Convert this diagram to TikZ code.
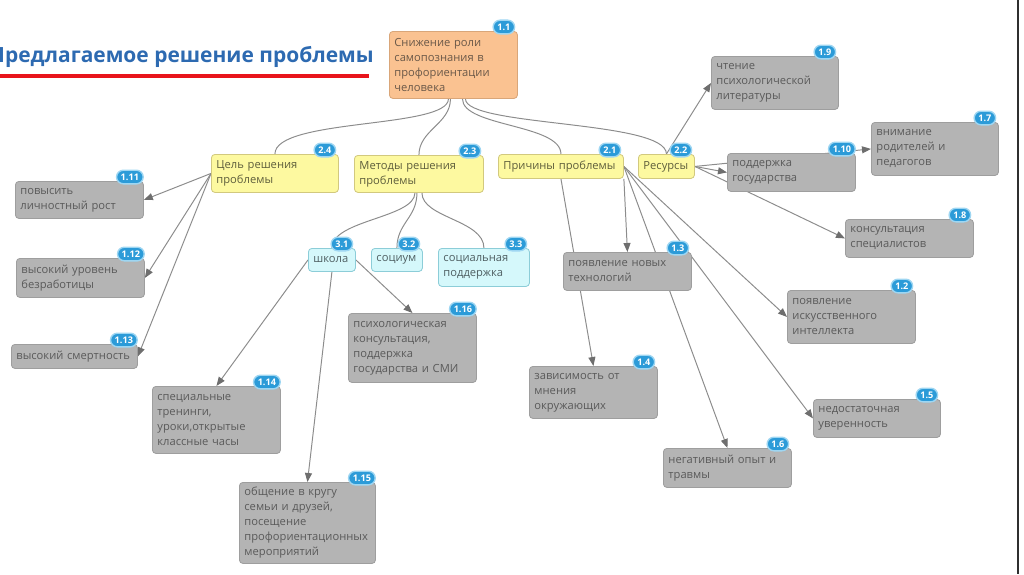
\documentclass[tikz,border=0pt]{standalone}
\usepackage{fontspec}
\setmainfont{Open Sans}
\usetikzlibrary{arrows.meta, backgrounds}
\definecolor{TitleB} {HTML}{2D6AB1}
\definecolor{LineR}  {HTML}{E8141B}
\definecolor{Orng}   {HTML}{D9A679}
\definecolor{OrngF}  {HTML}{FAC291}
\definecolor{OrngT}  {HTML}{6A5848}
\definecolor{Yell}   {HTML}{D2C97E}
\definecolor{YellF}  {HTML}{FDF9A0}
\definecolor{YellT}  {HTML}{5E5E3C}
\definecolor{CyanB}  {HTML}{8CCDD8}
\definecolor{CyanF}  {HTML}{D5F8FB}
\definecolor{CyanT}  {HTML}{4F5F62}
\definecolor{Gry}    {HTML}{9E9E9E}
\definecolor{GryF}   {HTML}{B4B4B4}
\definecolor{GryT}   {HTML}{5A5A5A}
\definecolor{Wire}   {HTML}{8C8C8C}
\definecolor{Tip}    {HTML}{6E6E6E}
\definecolor{Badge}  {HTML}{2C9BD8}
\definecolor{BadgeR} {HTML}{9ED6F2}
\definecolor{Edge}   {HTML}{2F2F2F}
\tikzset{
  box/.style args={#1/#2/#3}{
    rectangle, rounded corners=2.5pt,
    draw=#1, fill=#2, text=#3,
    font=\fontsize{7.95}{10.7}\selectfont, align=left,
    anchor=north west, inner xsep=0.125cm, inner ysep=0pt,
    line width=0.6pt,
  },
  obox/.style={box=Orng/OrngF/OrngT},
  ybox/.style={box=Yell/YellF/YellT},
  cbox/.style={box=CyanB/CyanF/CyanT},
  gbox/.style={box=Gry/GryF/GryT},
  wh/.style args={#1/#2}{text width=#1, minimum height=#2},
  badge/.style={
    rectangle, rounded corners=0.17cm,
    draw=BadgeR, fill=Badge, text=white,
    font=\fontsize{6.5}{7}\selectfont\bfseries,
    inner xsep=3pt, inner ysep=0pt, minimum height=0.34cm,
    line width=1pt,
  },
  link/.style={draw=Wire, line width=0.7pt},
  arr/.style={
    -{Triangle[length=0.225cm,width=0.175cm,color=Tip]},
    draw=Wire, line width=0.7pt,
  },
}
\begin{document}
\begin{tikzpicture}[x=0.025cm,y=-0.025cm]

    \useasboundingbox (0,0) rectangle (1024,574);

    \begin{scope}
      \clip (0,0) rectangle (400,100);
      \node[font=\fontsize{14.9}{18}\selectfont\bfseries, text=TitleB,
            anchor=base east, inner sep=0pt] (title) at (374,62)
            {Предлагаемое решение проблемы};
    \end{scope}
    \draw[LineR, line width=2.5pt] (0,76) -- (369,76);
    \draw[Edge, line width=1.3pt] (1018,0) -- (1018,574);

    \node[obox, wh=2.95cm/1.675cm]  (n11) at (389,31)
          {Снижение роли\\самопознания в\\профориентации\\человека};

    \node[ybox, wh=2.925cm/0.95cm]  (n24) at (211,154) {Цель решения\\проблемы};
    \node[ybox, wh=2.975cm/0.925cm] (n23) at (354,155) {Методы решения\\проблемы};
    \node[ybox, wh=2.875cm/0.6cm]   (n21) at (498,154) {Причины проблемы};
    \node[ybox, wh=1.15cm/0.6cm]    (n22) at (638,154) {Ресурсы};

    \node[cbox, wh=0.925cm/0.575cm] (n31) at (308,248) {школа};
    \node[cbox, wh=1.025cm/0.575cm] (n32) at (371,248) {социум};
    \node[cbox, wh=2.025cm/0.95cm]  (n33) at (438,248) {социальная\\поддержка};

    \node[gbox, wh=2.95cm/0.925cm]  (n111) at (15,181) {повысить\\личностный рост};
    \node[gbox, wh=2.95cm/0.975cm]  (n112) at (16,258) {высокий уровень\\безработицы};
    \node[gbox, wh=2.9cm/0.6cm]     (n113) at (11,344) {высокий смертность};
    \node[gbox, wh=2.95cm/1.725cm]  (n116) at (348,313)
          {психологическая\\консультация,\\поддержка\\государства и СМИ};
    \node[gbox, wh=2.95cm/1.675cm]  (n114) at (152,386)
          {специальные\\тренинги,\\уроки,открытые\\классные часы};
    \node[gbox, wh=3.15cm/2.025cm]  (n115) at (239,482)
          {общение в кругу\\семьи и друзей,\\посещение\\профориентационных\\мероприятий};

    \node[gbox, wh=2.95cm/0.95cm]   (n13) at (563,252) {появление новых\\технологий};
    \node[gbox, wh=2.95cm/1.3cm]    (n14) at (529,366) {зависимость от\\мнения\\окружающих};
    \node[gbox, wh=2.925cm/1.325cm] (n19) at (711,56)  {чтение\\психологической\\литературы};
    \node[gbox, wh=2.95cm/0.95cm]   (n110) at (727,153) {поддержка\\государства};
    \node[gbox, wh=2.925cm/1.325cm] (n17) at (871,122) {внимание\\родителей и\\педагогов};
    \node[gbox, wh=2.95cm/0.95cm]   (n18) at (845,219) {консультация\\специалистов};
    \node[gbox, wh=2.95cm/1.325cm]  (n12) at (787,290) {появление\\искусственного\\интеллекта};
    \node[gbox, wh=2.925cm/0.95cm]  (n15) at (813,399) {недостаточная\\уверенность};
    \node[gbox, wh=2.95cm/0.975cm]  (n16) at (663,448) {негативный опыт и\\травмы};

    \foreach \n/\t in {n11/1.1, n24/2.4, n23/2.3, n21/2.1, n22/2.2,
                      n31/3.1, n32/3.2, n33/3.3, n111/1.11, n112/1.12,
                      n113/1.13, n114/1.14, n115/1.15, n116/1.16, n13/1.3,
                      n14/1.4, n19/1.9, n110/1.10, n17/1.7, n18/1.8,
                      n12/1.2, n15/1.5, n16/1.6}
      \node[badge] (b\n) at ([shift={(-14,-4)}]\n.north east) {\t};

    \begin{scope}[on background layer]
      \draw[link] ([shift={(-5,0)}]n11.south) .. controls +(0,30) and +(0,-36) .. (n24.north);
      \draw[link] ([shift={(-3,0)}]n11.south) .. controls +(0,25) and +(0,-25) .. (n23.north);
      \draw[link] ([shift={(9,0)}]n11.south)  .. controls +(0,28) and +(0,-30) .. (n21.north);
      \draw[link] ([shift={(12,0)}]n11.south) .. controls +(0,28) and +(0,-34) .. (n22.north);
      \draw[link] ([shift={(-4,0)}]n23.south) .. controls +(0,25) and +(0,-28) .. (n31.north);
      \draw[link] ([shift={(-2,0)}]n23.south) .. controls +(0,25) and +(0,-25) .. (n32.north);
      \draw[link] ([shift={(3,0)}]n23.south)  .. controls +(0,25) and +(0,-28) .. (n33.north);

      \draw[arr] (n24.west) -- (n111.east);
      \draw[arr] (n24.west) -- (n112.east);
      \draw[arr] (n24.west) -- (n113.east);
      \draw[arr] (n31.west) -- (n114.north);
      \draw[arr] (n31.south) -- (n115.north);
      \draw[arr] (n31.east) -- (n116.north);
      \draw[arr] (n21.south) -- (n14.north);
      \draw[arr] (n21.south east) -- (n13.north);
      \draw[arr] (n21.east) -- (n12.west);
      \draw[arr] (n21.east) -- (n15.west);
      \draw[arr] (n21.east) -- (n16.north);
      \draw[arr] (n22.north) -- (n19.west);
      \draw[arr] (n22.east) -- (n110.west);
      \draw[arr] (n22.east) -- (n17.west);
      \draw[arr] (n22.east) -- (n18.west);
    \end{scope}

\end{tikzpicture}
\end{document}
